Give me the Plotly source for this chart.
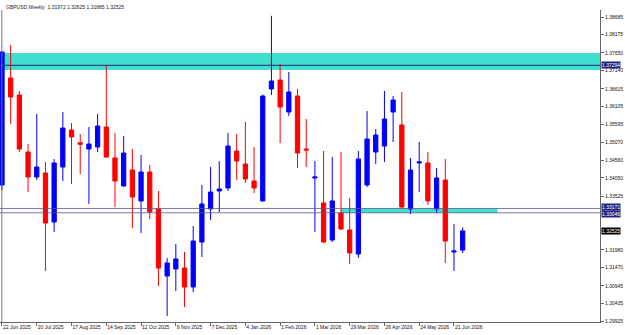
import plotly.graph_objects as go
import pandas as pd

# ---- data ----
dates = pd.date_range("2025-06-22", periods=54, freq="7D")

opens = [1.33847, 1.36928, 1.36439, 1.34797, 1.34077, 1.34193, 1.32781, 1.34365, 1.35431, 1.35065,
         1.34884, 1.34941, 1.35517, 1.34625, 1.33818, 1.34279, 1.33387, 1.34221, 1.33156, 1.31226,
         1.31428, 1.31456, 1.30909, 1.32205, 1.33156, 1.33674, 1.33761, 1.34826, 1.34452, 1.33962,
         1.33387, 1.36612, 1.36871, 1.35949, 1.36410, 1.34884, 1.34049, 1.33329, 1.32263, 1.33041,
         1.32551, 1.31860, 1.33847, 1.34797, 1.34970, 1.35949, 1.35575, 1.33156, 1.34481, 1.34481,
         1.33156, 1.33991, 1.31917, 1.31972]
highs = [1.37706, 1.37879, 1.36554, 1.35028, 1.35892, 1.34509, 1.34596, 1.35949, 1.35632, 1.35316,
         1.35517, 1.35892, 1.37303, 1.35345, 1.35258, 1.34884, 1.34711, 1.34423, 1.33674, 1.31745,
         1.32147, 1.31917, 1.32665, 1.33847, 1.34365, 1.34538, 1.35345, 1.35316, 1.35661, 1.34941,
         1.36450, 1.38720, 1.37332, 1.37101, 1.36612, 1.35747, 1.34538, 1.34826, 1.34653, 1.34797,
         1.33473, 1.34826, 1.35978, 1.35460, 1.36554, 1.36410, 1.36525, 1.34625, 1.35085, 1.34797,
         1.34337, 1.34596, 1.32723, 1.32625]
lows = [1.33703, 1.35603, 1.34797, 1.33645, 1.33991, 1.31370, 1.32493, 1.33962, 1.33876, 1.34164,
        1.33300, 1.34797, 1.34625, 1.33213, 1.33800, 1.32607, 1.32465, 1.32867, 1.30937, 1.30074,
        1.30794, 1.30333, 1.30765, 1.31773, 1.32839, 1.33069, 1.33674, 1.33991, 1.33905, 1.33617,
        1.33370, 1.36439, 1.35056, 1.35834, 1.34337, 1.34365, 1.32493, 1.32177, 1.32205, 1.32560,
        1.31572, 1.31745, 1.33789, 1.34452, 1.34509, 1.35085, 1.33156, 1.33012, 1.33645, 1.33271,
        1.33041, 1.31601, 1.31370, 1.31885]
closes = [1.37677, 1.36381, 1.34884, 1.34077, 1.34365, 1.32751, 1.34481, 1.35488, 1.35229, 1.35019,
          1.35028, 1.35546, 1.34653, 1.33962, 1.34768, 1.33501, 1.34221, 1.33069, 1.31456, 1.31601,
          1.31716, 1.30909, 1.32234, 1.33300, 1.33645, 1.33732, 1.34970, 1.34538, 1.34020, 1.33761,
          1.36410, 1.36842, 1.36093, 1.36525, 1.34768, 1.34855, 1.34077, 1.32205, 1.33387, 1.32579,
          1.31889, 1.34596, 1.35172, 1.35287, 1.35747, 1.36295, 1.33213, 1.34279, 1.34509, 1.33387,
          1.34049, 1.32234, 1.31946, 1.32525]

price_ticks = [1.38685, 1.38175, 1.37650, 1.37140, 1.36615, 1.36105, 1.35595, 1.35070,
               1.34560, 1.34050, 1.33525, 1.31980, 1.31470, 1.30945, 1.30435, 1.29925]
date_tick_labels = ["22 Jun 2025", "20 Jul 2025", "17 Aug 2025", "14 Sep 2025", "12 Oct 2025",
                    "9 Nov 2025", "7 Dec 2025", "4 Jan 2026", "1 Feb 2026", "1 Mar 2026",
                    "29 Mar 2026", "26 Apr 2026", "24 May 2026", "21 Jun 2026"]

upper_zone = [1.37160, 1.37650]
upper_line = 1.37294
lower_lines = [1.33171, 1.33046]
lower_zone_dates = ["2026-03-22", "2026-07-26"]
last_price = 1.32525
title_text = "GBPUSD,Weekly&nbsp; 1.31972 1.32625 1.31885 1.32525"

# ---- figure ----
FONT = "Liberation Sans, Arial, sans-serif"
NAVY = "#23237f"

fig = go.Figure()
fig.add_trace(go.Candlestick(
    x=dates, open=opens, high=highs, low=lows, close=closes,
    increasing=dict(line=dict(color="#0000ff", width=1), fillcolor="#0000ff"),
    decreasing=dict(line=dict(color="#ff0000", width=1), fillcolor="#ff0000"),
    whiskerwidth=0, hoverinfo="skip", showlegend=False,
))

x0 = dates[0] - pd.Timedelta(days=1.6)
x1 = dates[0] + pd.Timedelta(days=68.8 * 7)

# zones and lines
fig.add_shape(type="rect", xref="paper", x0=0, x1=1, yref="y", y0=upper_zone[0], y1=upper_zone[1],
              fillcolor="#40e0d0", line_width=0, layer="below")
fig.add_shape(type="rect", xref="x", x0=lower_zone_dates[0], x1=lower_zone_dates[1], yref="y",
              y0=lower_lines[1], y1=lower_lines[0], fillcolor="#40e0d0", line_width=0, layer="below")
fig.add_shape(type="line", xref="paper", x0=0, x1=1, yref="y", y0=upper_line, y1=upper_line,
              line=dict(color=NAVY, width=1))
for v in lower_lines:
    fig.add_shape(type="line", xref="paper", x0=0, x1=1, yref="y", y0=v, y1=v,
                  line=dict(color="#55557f", width=0.8))
# left frame line
fig.add_shape(type="line", xref="paper", x0=0.003, x1=0.003, yref="paper", y0=0, y1=1,
              line=dict(color="#777777", width=1))

# price boxes on the right axis
for v, bg, ys in [(upper_line, NAVY, 0), (lower_lines[0], NAVY, 1.5),
                  (lower_lines[1], NAVY, -1.5), (last_price, "#000000", 0)]:
    fig.add_annotation(xref="paper", x=1, xanchor="left", xshift=1, yref="y", y=v, yanchor="middle",
                       yshift=ys, text=f"{v:.5f}", showarrow=False, bgcolor=bg, borderpad=0,
                       font=dict(family=FONT, size=5, color="white"))

fig.add_annotation(xref="paper", x=0, xanchor="left", xshift=4, yref="paper", y=1, yanchor="middle",
                   yshift=3, text=title_text, showarrow=False,
                   font=dict(family=FONT, size=5, color="#222222"))

fig.update_layout(
    width=625, height=335, autosize=False,
    margin=dict(l=0, r=25, t=10, b=13),
    paper_bgcolor="white", plot_bgcolor="white",
    font=dict(family=FONT, size=5, color="#111111"),
    showlegend=False,
    xaxis=dict(
        type="date", range=[x0, x1], rangeslider=dict(visible=False),
        tickvals=list(dates[0::4]), ticktext=date_tick_labels,
        ticklabelposition="outside right", tickangle=0,
        ticks="outside", ticklen=3, tickcolor="#666666", tickwidth=1,
        showline=True, linecolor="#666666", linewidth=1,
        showgrid=False, zeroline=False,
        tickfont=dict(family=FONT, size=5, color="#111111"),
    ),
    yaxis=dict(
        side="right", range=[1.29901, 1.38887],
        tickvals=price_ticks, ticktext=[f"{v:.5f}" for v in price_ticks],
        ticks="outside", ticklen=3, tickcolor="#666666", tickwidth=1,
        showline=True, linecolor="#666666", linewidth=1,
        showgrid=False, zeroline=False,
        tickfont=dict(family=FONT, size=5, color="#111111"),
    ),
)

fig.write_html("out.html")
